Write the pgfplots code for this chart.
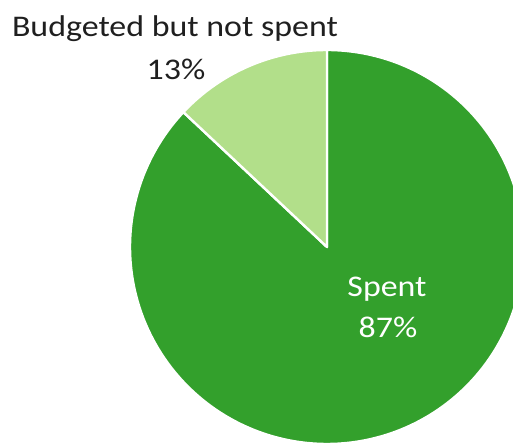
\documentclass[border=0pt]{standalone}
\usepackage{pgfplots}
\pgfplotsset{compat=1.18}
\usepackage{fontspec}
\setmainfont{Carlito}
\newfontfamily\lbl[FakeStretch=1.13]{Carlito}
\definecolor{spent}{HTML}{33A02C}
\definecolor{notspent}{HTML}{B2DF8A}
\definecolor{txt}{HTML}{1F1F1F}
\begin{document}
\begin{tikzpicture}
\begin{axis}[
  name=ax,
  width=513bp, height=443bp, scale only axis,
  xmin=0, xmax=513, ymin=0, ymax=443,
  hide axis, clip=true,
]
% values (percent): Spent 87, Budgeted but not spent 13
\def\cx{327}\def\cy{196}\def\r{197}
\addplot[fill=spent, draw=white, line width=2.4bp, line join=round, domain=0:{360*87/100}, samples=240, variable=\t]
  ({\cx+\r*sin(\t)},{\cy+\r*cos(\t)}) -- (axis cs:\cx,\cy) -- cycle;
\addplot[fill=notspent, draw=white, line width=2.4bp, line join=round, domain={360*87/100}:360, samples=60, variable=\t]
  ({\cx+\r*sin(\t)},{\cy+\r*cos(\t)}) -- (axis cs:\cx,\cy) -- cycle;
\node[anchor=base, text=txt, font=\lbl\fontsize{30bp}{36bp}\selectfont] at (axis cs:175,406) {Budgeted but not spent};
\node[anchor=base, text=txt, font=\lbl\fontsize{30bp}{36bp}\selectfont] at (axis cs:176,363) {13\%};
\node[anchor=base, text=white, font=\lbl\fontsize{30bp}{36bp}\selectfont] at (axis cs:387,146) {Spent};
\node[anchor=base, text=white, font=\lbl\fontsize{30bp}{36bp}\selectfont] at (axis cs:388,105) {87\%};
\end{axis}
\pgfresetboundingbox
\path[use as bounding box] (ax.south west) rectangle (ax.north east);
\end{tikzpicture}
\end{document}
